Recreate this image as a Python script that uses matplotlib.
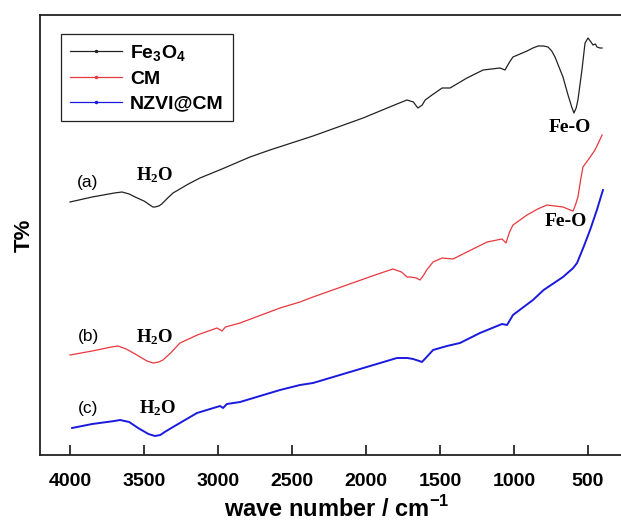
import matplotlib

matplotlib.use("Agg")
import matplotlib.pyplot as plt
from matplotlib.lines import Line2D

# FTIR spectra (wavenumber in cm^-1, transmittance in arbitrary units)
wn_a = [4000, 3850, 3700, 3649, 3600, 3560, 3500, 3470, 3440, 3426, 3400, 3380, 3340, 3304,
        3200, 3122, 2973, 2784, 2649, 2358, 2020, 1791, 1740, 1723, 1680, 1660, 1649, 1620,
        1600, 1554, 1486, 1432, 1318, 1209, 1095, 1061, 1030, 1007, 912, 872, 838, 800, 770,
        745, 723, 669, 635, 610, 595, 580, 568, 541, 520, 500, 480, 466, 450, 439, 419, 405]
t_a = [253, 258, 262, 263, 261, 258, 254, 251, 248, 248, 249, 251, 257, 262,
       271, 277, 286, 298, 305, 319, 337, 351, 354, 355, 353, 349, 347, 350,
       355, 360, 367, 367, 377, 385, 387, 385, 393, 398, 404, 407, 409, 409, 408,
       404, 398, 378, 360, 348, 342, 347, 355, 385, 412, 417, 413, 410, 411, 408, 407, 407]

wn_b = [4000, 3850, 3720, 3676, 3620, 3560, 3480, 3439, 3400, 3372, 3320, 3257, 3140, 3007,
        2973, 2950, 2851, 2581, 2446, 2358, 1939, 1818, 1760, 1723, 1700, 1660, 1635, 1610,
        1590, 1547, 1486, 1412, 1318, 1182, 1081, 1054, 1030, 1007, 912, 840, 777, 669, 620,
        601, 585, 568, 550, 534, 490, 453, 430, 405]
t_b = [100, 104, 108, 109, 106, 101, 94, 92, 93, 95, 102, 112, 120, 127,
       124, 128, 132, 147, 153, 158, 180, 186, 183, 178, 178, 177, 175, 180,
       185, 193, 197, 196, 203, 213, 216, 212, 223, 230, 240, 246, 250, 248, 245,
       244, 250, 258, 275, 288, 297, 305, 312, 320]

wn_c = [3986, 3850, 3700, 3662, 3600, 3540, 3470, 3426, 3390, 3360, 3304, 3142, 2986, 2966,
        2940, 2851, 2581, 2446, 2358, 1791, 1720, 1682, 1640, 1622, 1590, 1547, 1453, 1365,
        1230, 1081, 1047, 1007, 872, 800, 669, 600, 574, 530, 486, 440, 399]
t_c = [27, 31, 34, 35, 33, 27, 21, 19, 20, 23, 28, 42, 49, 47,
       51, 53, 65, 70, 72, 97, 97, 96, 94, 93, 98, 105, 109, 112,
       122, 131, 130, 140, 155, 165, 178, 187, 192, 208, 225, 245, 265]

series_labels = [r"$\mathrm{Fe_3O_4}$", "CM", "NZVI@CM"]
series_colors = ["#222222", "#e8383d", "#1a1adf"]
xticks = [4000, 3500, 3000, 2500, 2000, 1500, 1000, 500]

plt.rcParams["font.family"] = ["Liberation Sans", "DejaVu Sans"]
plt.rcParams["mathtext.fontset"] = "custom"
plt.rcParams["mathtext.rm"] = "Liberation Sans:bold"
plt.rcParams["mathtext.bf"] = "Liberation Serif:bold"

fig = plt.figure(figsize=(6.21, 5.21), dpi=100)
ax = fig.add_axes([40.4 / 621, 66 / 521, 592 / 621, 440 / 521])

ax.plot(wn_a, t_a, color=series_colors[0], lw=0.9)
ax.plot(wn_b, t_b, color=series_colors[1], lw=0.9)
ax.plot(wn_c, t_c, color=series_colors[2], lw=1.4)

ax.set_xlim(4200, 200)
ax.set_ylim(0, 440)
ax.set_xticks(xticks)
ax.set_xticklabels([str(v) for v in xticks], fontsize=14, fontweight="bold")
ax.set_yticks([])
ax.tick_params(axis="x", direction="in", length=7, width=1.1, pad=13)
for sp in ax.spines.values():
    sp.set_linewidth(1.3)
    sp.set_color("#222222")

ax.set_xlabel(r"wave number / cm$^{\mathrm{-1}}$", fontsize=17, fontweight="bold", labelpad=4)
ax.set_ylabel("T%", fontsize=16, fontweight="bold", labelpad=4)

# curve labels
for lab, y in [("(a)", 272), ("(b)", 118), ("(c)", 47)]:
    ax.text(3878, y, lab, fontsize=12.5, ha="center", va="center")
for x, y in [(3426, 280), (3426, 118), (3405, 47)]:
    ax.text(x, y, r"$\mathbf{H_2O}$", fontsize=13.5, ha="center", va="center")
for x, y in [(622, 328), (649, 233)]:
    ax.text(x, y, "Fe-O", fontsize=14, fontweight="bold", family="Liberation Serif",
            ha="center", va="center")

handles = [Line2D([], [], color=c, lw=0.9, marker=".", markersize=3) for c in series_colors]
leg = ax.legend(handles, series_labels, loc="upper left", bbox_to_anchor=(0.035, 0.957),
                borderaxespad=0, fancybox=False, framealpha=1, edgecolor="#222222",
                numpoints=1, handlelength=2.7, handletextpad=0.4, labelspacing=0.38,
                borderpad=0.45, prop={"weight": "bold", "size": 14})
leg.get_frame().set_linewidth(0.9)

fig.savefig("out.png", dpi=100)
